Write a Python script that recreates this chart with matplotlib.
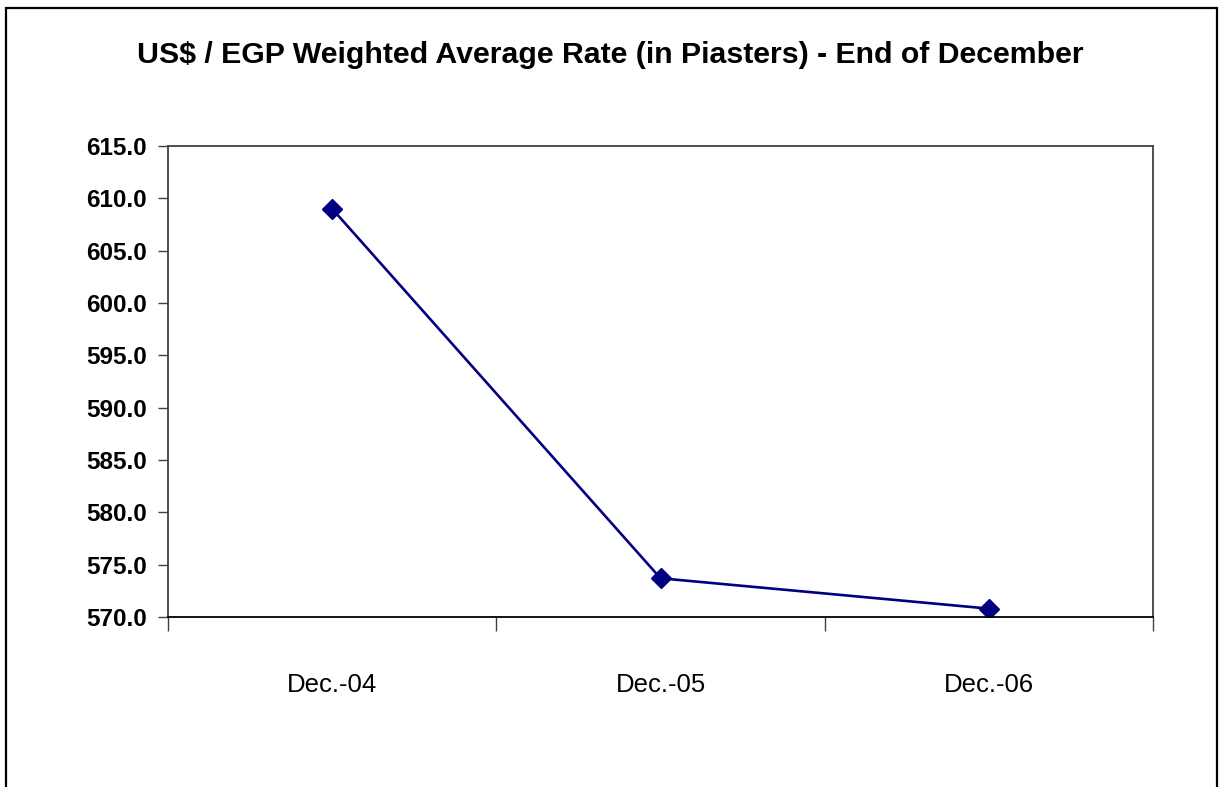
import matplotlib
matplotlib.use("Agg")
import matplotlib.pyplot as plt
from matplotlib.patches import Rectangle

plt.rcParams['font.family'] = ['Liberation Sans', 'DejaVu Sans']

categories = ["Dec.-04", "Dec.-05", "Dec.-06"]
rates = [609.0, 573.7, 570.8]
y_ticks = [570.0, 575.0, 580.0, 585.0, 590.0, 595.0, 600.0, 605.0, 610.0, 615.0]
title = "US$ / EGP Weighted Average Rate (in Piasters) - End of December"

W, H = 1220, 787
fig = plt.figure(figsize=(W / 100, H / 100), dpi=100)

# outer chart frame (bottom edge runs off the canvas)
fig.patches.append(Rectangle((6 / W, -0.05), (1217 - 6) / W, 1 - 8 / H + 0.05,
                             transform=fig.transFigure, fill=False,
                             edgecolor="black", linewidth=1.6))

ax = fig.add_axes([168 / W, 1 - 617 / H, (1153 - 168) / W, (617 - 146) / H])
x = list(range(len(categories)))
ax.plot(x, rates, color="#000080", linewidth=1.9, marker="D", markersize=10,
        markerfacecolor="#000080", markeredgecolor="#000080")

ax.set_xlim(-0.5, len(categories) - 0.5)
ax.set_ylim(570, 615)
ax.set_yticks(y_ticks)
ax.set_yticklabels([f"{v:.1f}" for v in y_ticks], fontsize=17.5, fontweight="bold")

# category ticks sit between the categories, labels centred under each one
ax.set_xticks([i - 0.5 for i in range(len(categories) + 1)])
ax.set_xticklabels([])
ax.set_xticks(x, minor=True)
ax.set_xticklabels(categories, minor=True, fontsize=18.5)
ax.tick_params(axis="x", which="major", direction="out", length=10, width=1, color="#404040")
ax.tick_params(axis="x", which="minor", length=0, pad=40)
ax.tick_params(axis="y", direction="out", length=7, width=1, color="#404040", pad=8)

for s in ax.spines.values():
    s.set_linewidth(1.3)
    s.set_color("#404040")
ax.spines["bottom"].set_color("black")

fig.text(0.5, 1 - 63 / H, title, ha="center", va="baseline", fontsize=21.8, fontweight="bold")

fig.savefig("out.png", dpi=100, facecolor="white")
